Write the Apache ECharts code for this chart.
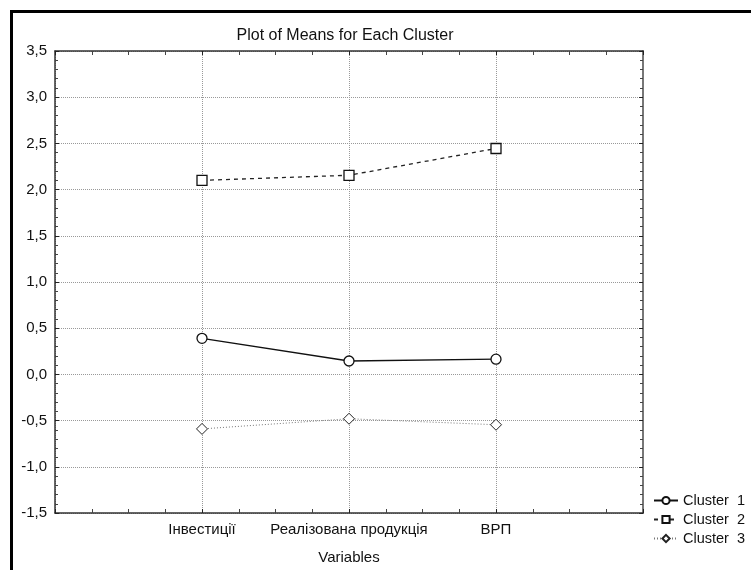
<!DOCTYPE html>
<html>
<head>
<meta charset="utf-8">
<script src="https://cdn.jsdelivr.net/npm/echarts@6/dist/echarts.min.js"></script>
<style>
  html, body { margin: 0; padding: 0; background: #fff; }
</style>
</head>
<body>
<div id="chart" style="width: 751px;height: 570px;"></div>

<script type="text/javascript">
    // categories sit at positions 1..3 on a 0..4 axis (like the original plot)
    var categories = ['', 'Інвестиції', 'Реалізована продукція', 'ВРП', ''];
    var cluster1 = [0.39, 0.145, 0.165];
    var cluster2 = [2.10, 2.155, 2.445];
    var cluster3 = [-0.59, -0.48, -0.545];
    var seriesNames = ['Cluster  1', 'Cluster  2', 'Cluster  3'];

    function toPoints(values){
        var pts = [];
        for(var i = 0; i < values.length; i++){
            pts.push([i + 1, values[i]]);
        }
        return pts;
    }

    var font = 'Liberation Sans, Arial, sans-serif';
    var chart = echarts.init(document.getElementById('chart'));

    var axisCommon = {
        axisLine: {show: true, onZero: false, lineStyle: {color: '#333', width: 1.5}},
        axisTick: {show: true, inside: true, length: 4, lineStyle: {color: '#222'}},
        minorTick: {show: true, length: 3, lineStyle: {color: '#444'}},
        splitLine: {show: false}
    };

    var option = {
        animation: false,
        backgroundColor: '#fff',
        title: {
            text: 'Plot of Means for Each Cluster',
            left: 340,
            top: 23,
            textAlign: 'center',
            textStyle: {fontFamily: font, fontSize: 16, fontWeight: 'normal', color: '#111'}
        },
        legend: {
            orient: 'vertical',
            left: 648,
            top: 488,
            itemGap: 4,
            itemWidth: 24,
            itemHeight: 9,
            data: seriesNames,
            textStyle: {fontFamily: font, fontSize: 14.5, color: '#111'}
        },
        grid: {left: 55, top: 51, right: 108, bottom: 57},
        xAxis: [
            Object.assign({}, axisCommon, {
                type: 'value',
                min: 0, max: 4, interval: 1,
                position: 'bottom',
                name: 'Variables',
                nameLocation: 'middle',
                nameGap: 37,
                nameTextStyle: {fontFamily: font, fontSize: 15, color: '#111'},
                minorTick: {show: true, splitNumber: 4, length: 4, lineStyle: {color: '#444'}},
                axisLabel: {
                    fontFamily: font, fontSize: 15, color: '#111', margin: 9,
                    formatter: function(v){ return categories[Math.round(v)] || ''; }
                },
                splitLine: {show: true, lineStyle: {color: '#999', type: [1, 1], width: 1}}
            }),
            Object.assign({}, axisCommon, {
                type: 'value',
                min: 0, max: 4, interval: 1,
                position: 'top',
                minorTick: {show: true, splitNumber: 4, length: 4, lineStyle: {color: '#444'}},
                axisLabel: {show: false}
            })
        ],
        yAxis: [
            Object.assign({}, axisCommon, {
                type: 'value',
                min: -1.5, max: 3.5, interval: 0.5,
                position: 'left',
                minorTick: {show: true, splitNumber: 5, length: 3, lineStyle: {color: '#444'}},
                axisLabel: {
                    fontFamily: font, fontSize: 15, color: '#111', margin: 8,
                    formatter: function(v){ return v.toFixed(1).replace('.', ','); }
                },
                splitLine: {show: true, lineStyle: {color: '#999', type: [1, 1], width: 1}}
            }),
            Object.assign({}, axisCommon, {
                type: 'value',
                min: -1.5, max: 3.5, interval: 0.5,
                position: 'right',
                axisLine: {show: true, onZero: false, lineStyle: {color: '#777', width: 2}},
                minorTick: {show: true, splitNumber: 5, length: 3, lineStyle: {color: '#444'}},
                axisLabel: {show: false}
            })
        ],
        series: [
            {
                name: seriesNames[0],
                type: 'line',
                data: toPoints(cluster1),
                symbol: 'circle',
                symbolSize: 10,
                lineStyle: {color: '#111', width: 1.3, type: 'solid'},
                itemStyle: {color: '#fff', borderColor: '#111', borderWidth: 1.3}
            },
            {
                name: seriesNames[1],
                type: 'line',
                data: toPoints(cluster2),
                symbol: 'rect',
                symbolSize: 10,
                lineStyle: {color: '#222', width: 1.3, type: [4, 4]},
                itemStyle: {color: '#fff', borderColor: '#111', borderWidth: 1.3}
            },
            {
                name: seriesNames[2],
                type: 'line',
                data: toPoints(cluster3),
                symbol: 'diamond',
                symbolSize: 11,
                lineStyle: {color: '#777', width: 1, type: [1, 2]},
                itemStyle: {color: '#fff', borderColor: '#222', borderWidth: 1}
            }
        ],
        graphic: [
            {type: 'line', shape: {x1: 10, y1: 11.5, x2: 751, y2: 11.5}, style: {stroke: '#000', lineWidth: 3}},
            {type: 'line', shape: {x1: 11.5, y1: 10, x2: 11.5, y2: 570}, style: {stroke: '#000', lineWidth: 3}}
        ]
    };
    chart.setOption(option);
</script>
</body>
</html>
